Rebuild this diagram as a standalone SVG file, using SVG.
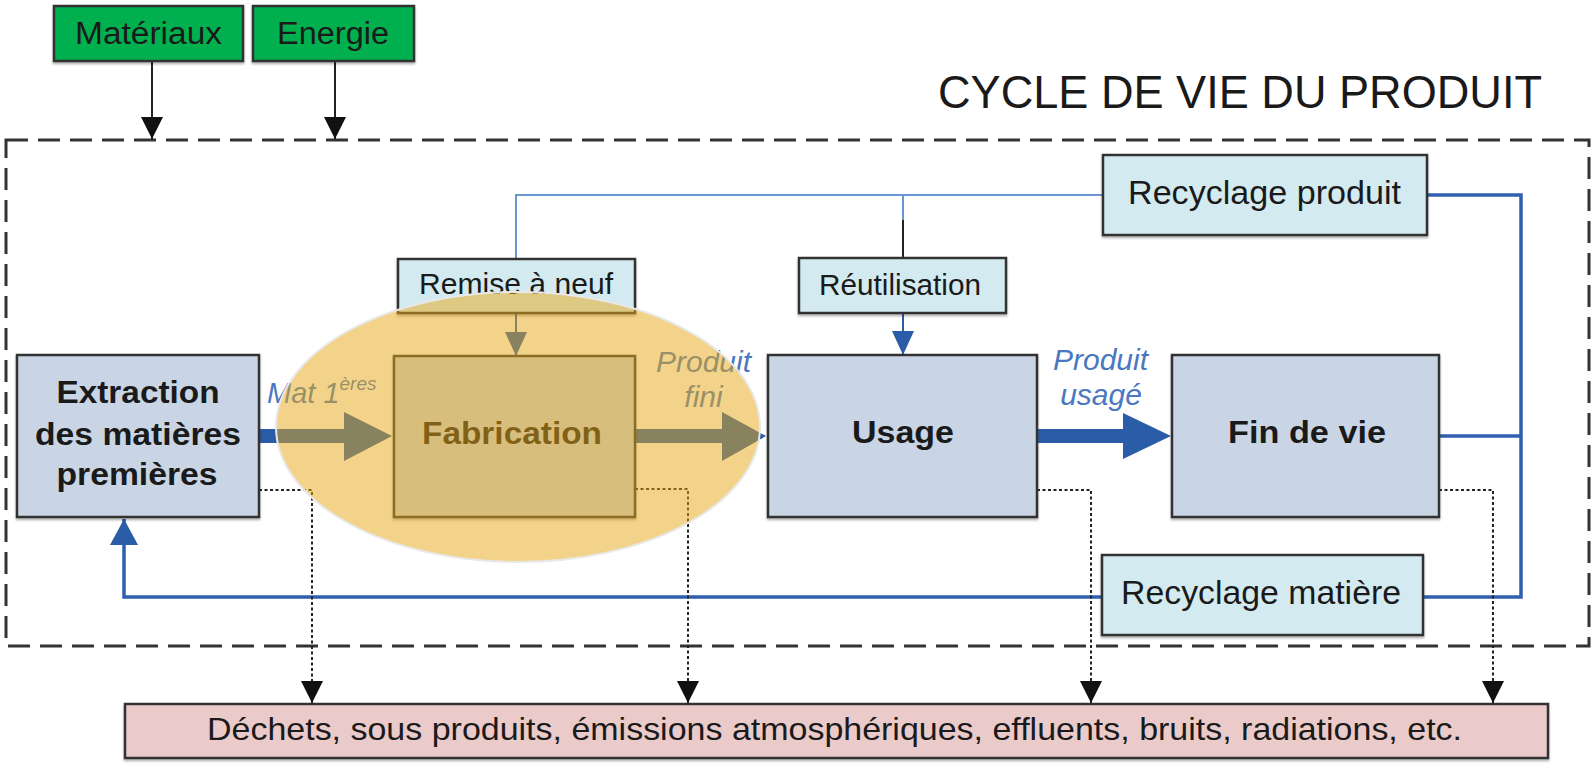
<svg xmlns="http://www.w3.org/2000/svg" width="1595" height="765" viewBox="0 0 1595 765">
  <defs>
    <style>
      .box { stroke: #333; stroke-width: 2.5; filter: url(#shadow); }
      .green { fill: #00b050; }
      .aqua { fill: #d3ebf0; }
      .stage { fill: #c9d5e5; }
      .waste { fill: #ebcaca; }
      .txt { font-family: "Liberation Sans", Arial, sans-serif; fill: #1a1a1a; }
      .bold { font-weight: bold; }
      .flow { font-family: "Liberation Sans", Arial, sans-serif; font-style: italic; fill: #4a78c0; font-size: 30px; }
      .thin { fill: none; stroke: #6a96d2; stroke-width: 2; }
      .loop { fill: none; stroke: #2f5fae; stroke-width: 3.5; }
      .blue { fill: none; stroke: #2a5ca8; stroke-width: 2; }
      .dot { fill: none; stroke: #222; stroke-width: 2; stroke-dasharray: 3 2.5; }
      .feed { fill: none; stroke: #222; stroke-width: 2; }
      .big { fill: #2a5ca8; }
    </style>
    <filter id="shadow" x="-5%" y="-5%" width="110%" height="120%">
      <feDropShadow dx="0" dy="2" stdDeviation="1.2" flood-color="#000" flood-opacity="0.3"/>
    </filter>
    <marker id="tipBlack" viewBox="0 0 22 22" refX="22" refY="11" markerWidth="22" markerHeight="22" markerUnits="userSpaceOnUse" orient="auto">
      <path d="M0,0 L22,11 L0,22 Z" fill="#111"/>
    </marker>
    <marker id="tipBlue" viewBox="0 0 24 22" refX="24" refY="11" markerWidth="24" markerHeight="22" markerUnits="userSpaceOnUse" orient="auto">
      <path d="M0,0 L24,11 L0,22 Z" fill="#2a5ca8"/>
    </marker>
    <marker id="tipBlueWide" viewBox="0 0 26 28" refX="26" refY="14" markerWidth="26" markerHeight="28" markerUnits="userSpaceOnUse" orient="auto">
      <path d="M0,0 L26,14 L0,28 Z" fill="#2a5ca8"/>
    </marker>
  </defs>

  <rect width="1595" height="765" fill="#fff"/>

  <!-- life-cycle boundary -->
  <g id="cycle-frame">
    <rect x="6" y="140" width="1583" height="506" fill="none" stroke="#333" stroke-width="3" stroke-dasharray="22 10"/>
    <text class="txt" x="938" y="108" font-size="46" textLength="604" lengthAdjust="spacingAndGlyphs">CYCLE DE VIE DU PRODUIT</text>
  </g>

  <!-- connectors -->
  <g id="connectors">
    <!-- inputs -->
    <line class="feed" x1="152" y1="61" x2="152" y2="139" marker-end="url(#tipBlack)"/>
    <line class="feed" x1="335" y1="61" x2="335" y2="139" marker-end="url(#tipBlack)"/>

    <!-- product recycling loop (top) -->
    <path class="thin" d="M1103,195 H516 V259"/>
    <path class="thin" d="M903,195 V220"/>
    <path d="M903,220 V258" fill="none" stroke="#222" stroke-width="2"/>
    <line class="blue" x1="516" y1="313" x2="516" y2="356" marker-end="url(#tipBlue)"/>
    <line class="blue" x1="903" y1="313" x2="903" y2="355" marker-end="url(#tipBlue)"/>

    <!-- end-of-life return loops -->
    <path class="loop" d="M1427,195 H1521 V597 H1423"/>
    <path class="loop" d="M1439,436 H1521"/>
    <path class="loop" d="M1102,597 H124 V519" marker-end="url(#tipBlueWide)"/>

    <!-- main flow arrows -->
    <polygon class="big" points="259,429 344,429 344,412 392,436 344,461 344,443 259,443"/>
    <polygon class="big" points="635,429 722,429 722,412 766,436 722,461 722,443 635,443"/>
    <polygon class="big" points="1037,429 1123,429 1123,413 1171,436 1123,459 1123,443 1037,443"/>

    <!-- emissions -->
    <path class="dot" d="M259,490 H312 V703" marker-end="url(#tipBlack)"/>
    <path class="dot" d="M635,489 H688 V703" marker-end="url(#tipBlack)"/>
    <path class="dot" d="M1037,490 H1091 V703" marker-end="url(#tipBlack)"/>
    <path class="dot" d="M1439,490 H1493 V703" marker-end="url(#tipBlack)"/>
  </g>

  <g id="materiaux">
    <rect class="box green" x="54" y="6" width="189" height="55"/>
    <text class="txt" x="148.5" y="44" font-size="31" text-anchor="middle" textLength="147" lengthAdjust="spacingAndGlyphs">Matériaux</text>
  </g>
  <g id="energie">
    <rect class="box green" x="253" y="6" width="161" height="55"/>
    <text class="txt" x="333" y="44" font-size="31" text-anchor="middle" textLength="112" lengthAdjust="spacingAndGlyphs">Energie</text>
  </g>

  <g id="extraction">
    <rect class="box stage" x="17" y="355" width="242" height="162"/>
    <text class="txt bold" x="138" y="403" font-size="32" text-anchor="middle" textLength="163" lengthAdjust="spacingAndGlyphs">Extraction</text>
    <text class="txt bold" x="138" y="445" font-size="32" text-anchor="middle" textLength="206" lengthAdjust="spacingAndGlyphs">des matières</text>
    <text class="txt bold" x="137" y="485" font-size="32" text-anchor="middle" textLength="161" lengthAdjust="spacingAndGlyphs">premières</text>
  </g>
  <g id="fabrication">
    <rect class="box stage" x="394" y="356" width="241" height="161"/>
    <text class="txt bold" x="512" y="444" font-size="32" text-anchor="middle" textLength="180" lengthAdjust="spacingAndGlyphs">Fabrication</text>
  </g>
  <g id="usage">
    <rect class="box stage" x="768" y="355" width="269" height="162"/>
    <text class="txt bold" x="903" y="443" font-size="32" text-anchor="middle" textLength="102" lengthAdjust="spacingAndGlyphs">Usage</text>
  </g>
  <g id="fin-de-vie">
    <rect class="box stage" x="1172" y="355" width="267" height="162"/>
    <text class="txt bold" x="1307" y="443" font-size="32" text-anchor="middle" textLength="158" lengthAdjust="spacingAndGlyphs">Fin de vie</text>
  </g>

  <g id="remise-a-neuf">
    <rect class="box aqua" x="398" y="259" width="237" height="54"/>
    <text class="txt" x="516" y="294" font-size="30" text-anchor="middle" textLength="194" lengthAdjust="spacingAndGlyphs">Remise à neuf</text>
  </g>
  <g id="reutilisation">
    <rect class="box aqua" x="799" y="258" width="207" height="55"/>
    <text class="txt" x="900" y="295" font-size="30" text-anchor="middle" textLength="162" lengthAdjust="spacingAndGlyphs">Réutilisation</text>
  </g>
  <g id="recyclage-produit">
    <rect class="box aqua" x="1103" y="155" width="324" height="80"/>
    <text class="txt" x="1264.5" y="204" font-size="34" text-anchor="middle" textLength="273" lengthAdjust="spacingAndGlyphs">Recyclage produit</text>
  </g>
  <g id="recyclage-matiere">
    <rect class="box aqua" x="1102" y="555" width="321" height="80"/>
    <text class="txt" x="1261" y="604" font-size="34" text-anchor="middle" textLength="280" lengthAdjust="spacingAndGlyphs">Recyclage matière</text>
  </g>

  <g id="dechets">
    <rect class="box waste" x="125" y="704" width="1423" height="54"/>
    <text class="txt" x="834.5" y="740" font-size="32" text-anchor="middle" textLength="1255" lengthAdjust="spacingAndGlyphs">Déchets, sous produits, émissions atmosphériques, effluents, bruits, radiations, etc.</text>
  </g>

  <!-- flow labels -->
  <g id="flow-labels">
    <text class="flow" x="267" y="403" style="font-size:29px">Mat 1<tspan style="font-size:19px" dy="-13">ères</tspan></text>
    <text class="flow" x="703.5" y="372" text-anchor="middle">Produit</text>
    <text class="flow" x="703.5" y="407" text-anchor="middle">fini</text>
    <text class="flow" x="1100.5" y="370" text-anchor="middle">Produit</text>
    <text class="flow" x="1101" y="405" text-anchor="middle">usagé</text>
  </g>

  <!-- manufacturing highlight -->
  <g id="highlight">
    <ellipse cx="518" cy="427" rx="242" ry="135" fill="rgb(232,168,20)" fill-opacity="0.5" stroke="#e8e8e8" stroke-width="2"/>
  </g>
</svg>
